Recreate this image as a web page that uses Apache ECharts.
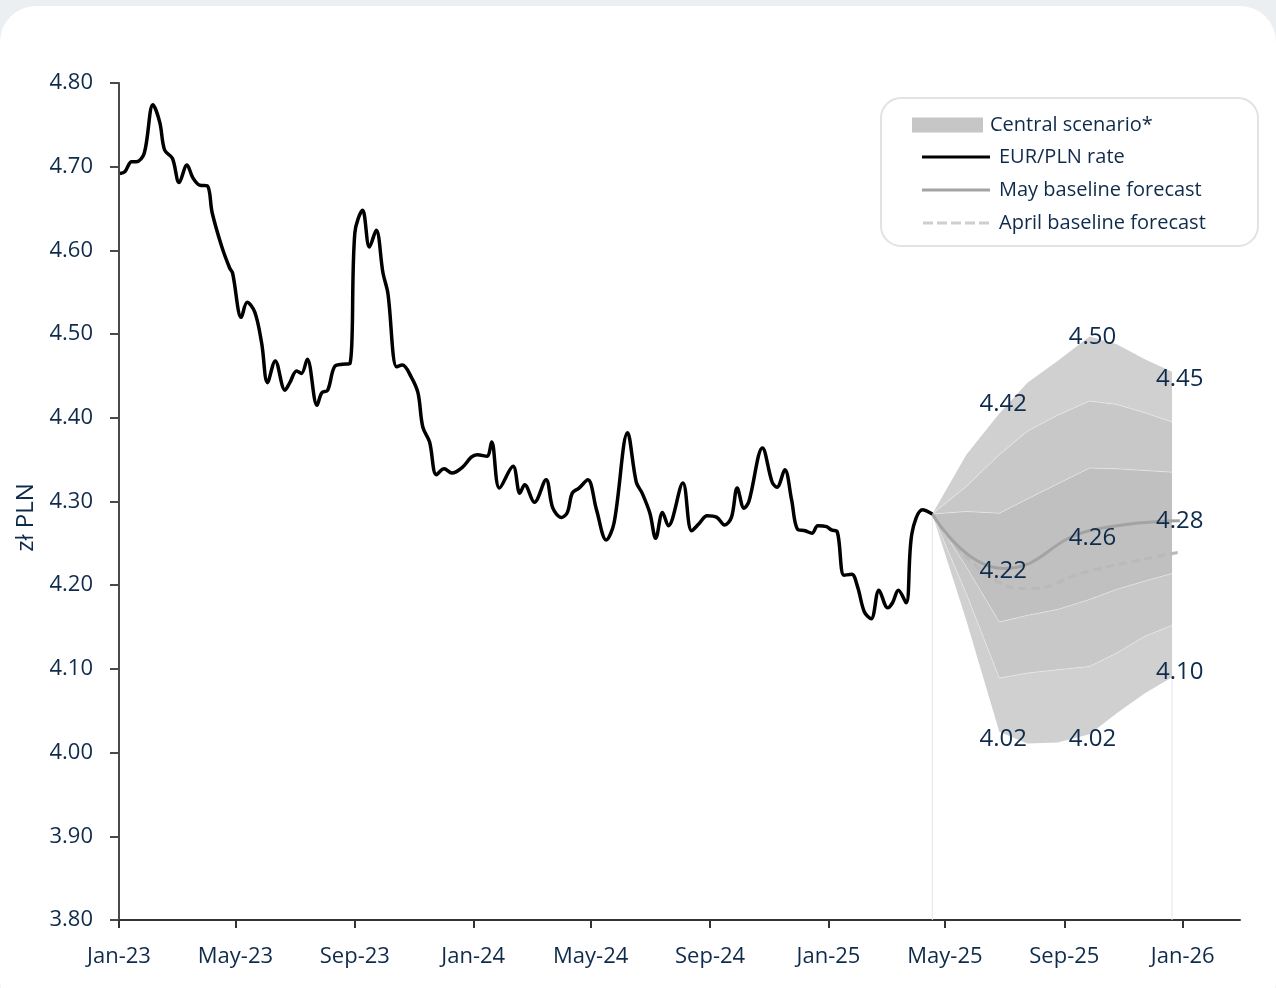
<!DOCTYPE html>
<html>
<head>
<meta charset="utf-8">
<script src="https://cdn.jsdelivr.net/npm/echarts@6/dist/echarts.min.js"></script>
<style>
html,body{margin:0;padding:0;background:#eceff1;}
#chart{width:1276px;height:988px;}
</style>
</head>
<body>
<div id="chart"></div>
<script>
// ---------- DATA ----------
const tickDates = ['2023-01-01','2023-05-01','2023-09-01','2024-01-01','2024-05-01','2024-09-01','2025-01-01','2025-05-01','2025-09-01','2026-01-01'];
const tickLabels = ['Jan-23','May-23','Sep-23','Jan-24','May-24','Sep-24','Jan-25','May-25','Sep-25','Jan-26'];

const rateDates = [
'2023-01-02','2023-01-07','2023-01-14','2023-01-19','2023-01-27','2023-02-05','2023-02-12','2023-02-17','2023-02-25','2023-03-04',
'2023-03-12','2023-03-18','2023-03-25','2023-04-02','2023-04-07','2023-04-17','2023-04-25','2023-04-28','2023-05-07','2023-05-13',
'2023-05-21','2023-05-28','2023-06-03','2023-06-11','2023-06-21','2023-06-26','2023-07-03','2023-07-08','2023-07-14','2023-07-24',
'2023-07-29','2023-08-04','2023-08-11','2023-08-19','2023-08-27','2023-09-01','2023-09-09','2023-09-16','2023-09-23','2023-09-30',
'2023-10-05','2023-10-14','2023-10-20','2023-10-29','2023-11-05','2023-11-10','2023-11-17','2023-11-24','2023-12-02','2023-12-10',
'2023-12-21','2023-12-30','2024-01-05','2024-01-15','2024-01-20','2024-01-28','2024-02-11','2024-02-18','2024-02-23','2024-03-04',
'2024-03-16','2024-03-23','2024-04-01','2024-04-07','2024-04-12','2024-04-19','2024-04-28','2024-05-07','2024-05-17','2024-05-25',
'2024-06-08','2024-06-17','2024-06-23','2024-07-01','2024-07-07','2024-07-14','2024-07-20','2024-08-04','2024-08-13','2024-08-21',
'2024-08-29','2024-09-08','2024-09-16','2024-09-23','2024-09-29','2024-10-06','2024-10-11','2024-10-25','2024-11-04','2024-11-09',
'2024-11-17','2024-11-24','2024-11-30','2024-12-08','2024-12-15','2024-12-21','2024-12-30','2025-01-04','2025-01-10','2025-01-17',
'2025-01-25','2025-01-31','2025-02-07','2025-02-14','2025-02-22','2025-03-03','2025-03-08','2025-03-14','2025-03-22','2025-03-28',
'2025-04-08','2025-04-18'];
const rateValues = [
4.692,4.694,4.706,4.706,4.716,4.774,4.753,4.720,4.710,4.681,
4.702,4.687,4.678,4.677,4.645,4.604,4.579,4.573,4.520,4.538,
4.526,4.489,4.442,4.468,4.433,4.442,4.456,4.453,4.470,4.415,
4.430,4.433,4.461,4.464,4.465,4.621,4.648,4.604,4.624,4.573,
4.549,4.461,4.463,4.449,4.430,4.389,4.371,4.332,4.339,4.334,
4.341,4.353,4.356,4.354,4.371,4.316,4.342,4.310,4.320,4.299,
4.326,4.292,4.281,4.287,4.310,4.316,4.326,4.290,4.254,4.274,
4.382,4.323,4.310,4.286,4.256,4.287,4.271,4.322,4.265,4.274,
4.283,4.281,4.272,4.281,4.316,4.292,4.300,4.364,4.323,4.317,
4.338,4.302,4.267,4.265,4.262,4.271,4.270,4.266,4.264,4.212,
4.213,4.198,4.168,4.160,4.194,4.173,4.179,4.194,4.179,4.262,
4.290,4.285];

const fanDates = ['2025-04-18','2025-05-23','2025-06-26','2025-07-25','2025-08-25','2025-09-27','2025-10-25','2025-11-23','2025-12-21'];
const fanUpperOuter = [4.285,4.356,4.405,4.442,4.468,4.497,4.488,4.470,4.455];
const fanUpper2     = [4.285,4.318,4.356,4.384,4.403,4.420,4.416,4.406,4.395];
const fanUpper3     = [4.285,4.288,4.286,4.303,4.321,4.340,4.339,4.337,4.335];
const fanLower3     = [4.285,4.222,4.156,4.164,4.171,4.183,4.195,4.205,4.214];
const fanLower2     = [4.285,4.190,4.089,4.095,4.099,4.103,4.119,4.139,4.152];
const fanLowerOuter = [4.285,4.158,4.025,4.011,4.012,4.022,4.047,4.071,4.090];

const mayDates  = ['2025-04-18','2025-06-30','2025-09-30','2025-12-29'];
const mayValues = [4.285,4.220,4.266,4.277];
const aprDates  = ['2025-04-18','2025-06-26','2025-07-25','2025-09-27','2025-12-27'];
const aprValues = [4.285,4.203,4.196,4.217,4.239];

const labelDates  = ['2025-06-30','2025-06-30','2025-06-30','2025-09-30','2025-09-30','2025-09-30','2025-12-29','2025-12-29','2025-12-29'];
const labelValues = [4.42,4.22,4.02,4.50,4.26,4.02,4.45,4.28,4.10];

// ---------- CHART ----------
const NAVY = '#0f2b4c';
const FONT = '"Open Sans", "Noto Sans", sans-serif';
const ts = d => echarts.number.parseDate(d).getTime();
const zip = (ds, vs) => ds.map((d, i) => [ts(d), vs[i]]);
const tickTs = tickDates.map(ts);

const OUTER = '#d0d0d0', MID = '#c8c8c8', CENTRAL = '#c0c0c0';
const APRIL = '#b9b9b9', MAY = '#a3a3a3';
const bands = [
  [fanLowerOuter, fanLower2, OUTER],
  [fanLower2, fanLower3, MID],
  [fanLower3, fanUpper3, CENTRAL],
  [fanUpper3, fanUpper2, MID],
  [fanUpper2, fanUpperOuter, OUTER]
];

function renderFan(params, api) {
  if (params.dataIndex !== 0) return null;
  const xs = fanDates.map(ts);
  const pts = arr => xs.map((x, i) => api.coord([x, arr[i]]));
  const children = [];
  bands.forEach(([lo, hi, col]) => {
    const poly = pts(hi).concat(pts(lo).reverse());
    children.push({type: 'polygon', shape: {points: poly}, style: {fill: col}});
  });
  [fanLower2, fanLower3, fanUpper3, fanUpper2].forEach(arr => {
    children.push({type: 'polyline', shape: {points: pts(arr)}, style: {stroke: 'rgba(255,255,255,0.35)', lineWidth: 1, fill: null}});
  });
  const n = xs.length - 1;
  [[0, fanLowerOuter[0]], [n, fanLowerOuter[n]]].forEach(([i, v]) => {
    const a = api.coord([xs[i], 3.8]);
    const b = api.coord([xs[i], v]);
    children.push({type: 'line', shape: {x1: a[0], y1: a[1], x2: b[0], y2: b[1]}, style: {stroke: '#e6e6e6', lineWidth: 1}});
  });
  return {type: 'group', children};
}

const DASH_ICON = 'path://M0,0H10V3H0Z M14,0H24V3H14Z M28,0H38V3H28Z M42,0H52V3H42Z M56,0H66V3H56Z';

const chart = echarts.init(document.getElementById('chart'), null, {renderer: 'canvas'});
chart.setOption({
  backgroundColor: '#eceff1',
  animation: false,
  textStyle: {fontFamily: FONT},
  graphic: [
    {type: 'rect', z: -10, shape: {x: 0, y: 6, width: 1276, height: 1010, r: 36}, style: {fill: '#ffffff'}},
    {type: 'rect', z: 1, shape: {x: 881, y: 98, width: 377, height: 148, r: 20}, style: {fill: '#ffffff', stroke: '#e2e2e2', lineWidth: 2}}
  ],
  grid: {left: 119, right: 36, top: 83, bottom: 68},
  legend: [
    {
      data: [{name: 'Central scenario*', icon: 'rect', itemStyle: {color: '#c6c6c6'}}],
      left: 912, top: 114, padding: 0, itemWidth: 71, itemHeight: 15,
      selectedMode: false,
      textStyle: {color: NAVY, fontSize: 20, lineHeight: 22, fontFamily: FONT, padding: [0, 0, 0, 2]}
    },
    {
      data: [
        {name: 'EUR/PLN rate', icon: 'rect', itemStyle: {color: '#000000'}},
        {name: 'May baseline forecast', icon: 'rect', itemStyle: {color: MAY}},
        {name: 'April baseline forecast', icon: DASH_ICON, itemStyle: {color: '#cfcfcf'}}
      ],
      orient: 'vertical', left: 922, top: 146, padding: 0, itemWidth: 68, itemHeight: 3, itemGap: 11,
      selectedMode: false,
      textStyle: {color: NAVY, fontSize: 20, lineHeight: 22, fontFamily: FONT, padding: [0, 0, 0, 4]}
    }
  ],
  xAxis: {
    type: 'value',
    min: ts('2023-01-01'),
    max: ts('2026-03-01'),
    splitLine: {show: false},
    axisLine: {lineStyle: {color: '#333333', width: 2}},
    axisTick: {show: true, length: 8, lineStyle: {color: '#333333', width: 2}, customValues: tickTs},
    axisLabel: {
      customValues: tickTs,
      formatter: v => { const i = tickTs.indexOf(v); return i >= 0 ? tickLabels[i] : ''; },
      color: NAVY, fontSize: 22, margin: 26, fontFamily: FONT
    }
  },
  yAxis: {
    type: 'value', min: 3.8, max: 4.8, interval: 0.1,
    name: 'zł PLN', nameLocation: 'middle', nameGap: 73,
    nameTextStyle: {color: NAVY, fontSize: 24, fontFamily: FONT, padding: [0, 32, 0, 0]},
    splitLine: {show: false},
    axisLine: {show: true, lineStyle: {color: '#4a4a4a', width: 2}},
    axisTick: {show: true, length: 9, lineStyle: {color: '#4a4a4a', width: 2}},
    axisLabel: {formatter: v => v.toFixed(2), color: NAVY, fontSize: 22, margin: 26, fontFamily: FONT}
  },
  series: [
    {
      name: 'Central scenario*', type: 'custom', z: 1, silent: true,
      renderItem: renderFan,
      encode: {x: 0, y: 1},
      data: [[ts(fanDates[0]), fanUpperOuter[0]]]
    },
    {
      name: 'April baseline forecast', type: 'line', z: 3, symbol: 'none', smooth: 0.5,
      lineStyle: {color: APRIL, width: 3, type: [8, 5]}, itemStyle: {color: APRIL},
      data: zip(aprDates, aprValues)
    },
    {
      name: 'May baseline forecast', type: 'line', z: 4, symbol: 'none', smooth: 0.5,
      lineStyle: {color: MAY, width: 3}, itemStyle: {color: MAY},
      data: zip(mayDates, mayValues)
    },
    {
      name: 'EUR/PLN rate', type: 'line', z: 5, symbol: 'none', smooth: 0.35,
      lineStyle: {color: '#000000', width: 3.5}, itemStyle: {color: '#000000'},
      data: zip(rateDates, rateValues)
    },
    {
      name: 'labels', type: 'scatter', z: 6, symbolSize: 1, silent: true,
      itemStyle: {color: 'rgba(0,0,0,0)', opacity: 1},
      label: {show: true, position: 'inside', offset: [0, 3], formatter: p => p.value[1].toFixed(2), color: NAVY, fontSize: 24, fontFamily: FONT, textBorderWidth: 0},
      data: zip(labelDates, labelValues)
    }
  ]
});
</script>
</body>
</html>
